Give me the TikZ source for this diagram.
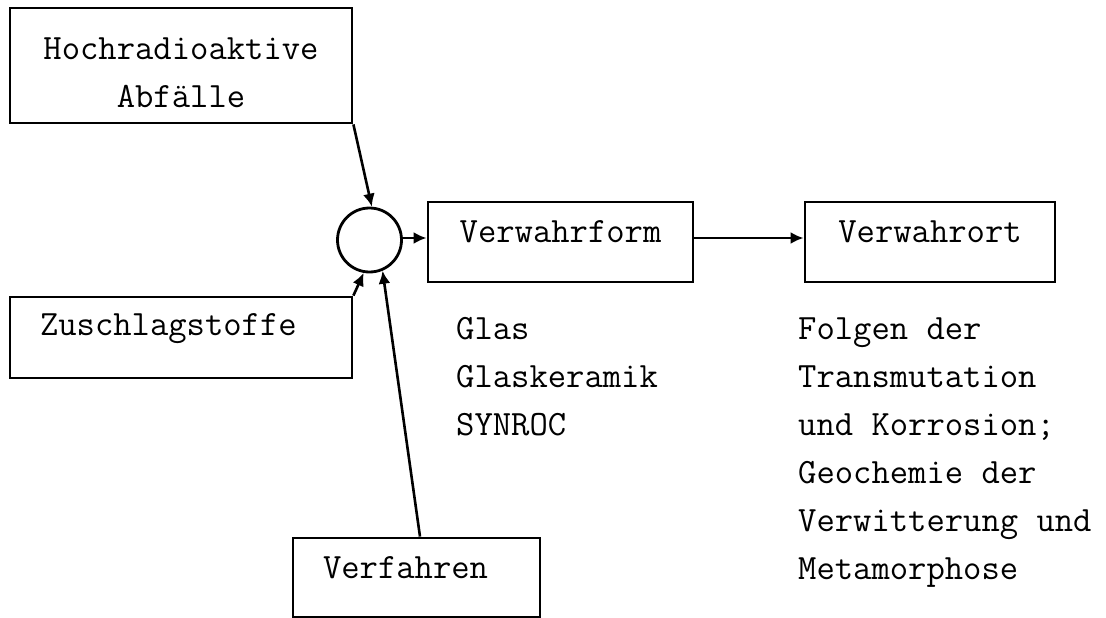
\documentclass[tikz,border=0pt]{standalone}
\usetikzlibrary{arrows.meta}
\begin{document}
\begin{tikzpicture}[x=1pt,y=-1pt,
  every node/.style={font=\fontsize{35.6pt}{48pt}\selectfont\ttfamily},
  box/.style={draw, line width=2.8pt, rectangle, inner xsep=30pt, inner ysep=0pt},
  plain/.style={inner sep=0pt, align=left, anchor=north west},
  arr/.style={line width=2.6pt, -{Latex[length=13pt,width=12pt]}}]
\useasboundingbox[fill=white] (0,0) rectangle (1106,618);
% boxes
\node[box, minimum width=342pt, minimum height=115pt, align=center] (ha) at (181,65.5)
  {\rule{0pt}{36.7pt}Hochradioaktive\\Abfälle};
\node[box, text width=205pt, align=center, text height=40pt, text depth=40pt] (vf) at (560.5,242) {Verwahrform};
\node[box, text width=190pt, align=center, text height=40pt, text depth=40pt] (vo) at (930,242) {Verwahrort};
\node[box, text width=282pt, align=left, text height=38pt, text depth=43pt, anchor=base] (zs) at (181,335) {Zuschlagstoffe};
\node[box, text width=187pt, align=left, text height=40pt, text depth=39pt, anchor=base] (vfa) at (416.5,578) {Verfahren};
% mixing circle
\node[draw, circle, line width=2.8pt, minimum size=64pt, inner sep=0pt] (c) at (369.5,240) {};
% texts
\node[plain] (mat) at (456,305.4) {\strut Glas\\Glaskeramik\\SYNROC};
\node[plain] (fol) at (798,305.4) {\strut Folgen der\\Transmutation\\und Korrosion;\\Geochemie der\\Verwitterung und\\Metamorphose};
% connectors
\draw[arr] (ha.south east) -- (c.86);
\draw[arr] (zs.north east) -- (c.-100);
\draw[arr] ([xshift=3.5pt]vfa.north) -- (c.-67);
\draw[arr] ([yshift=2pt]c.east) -- ([yshift=2pt]c.east -| vf.west);
\draw[arr] ([yshift=4pt]vf.east) -- ([yshift=4pt]vo.west);
\end{tikzpicture}
\end{document}
